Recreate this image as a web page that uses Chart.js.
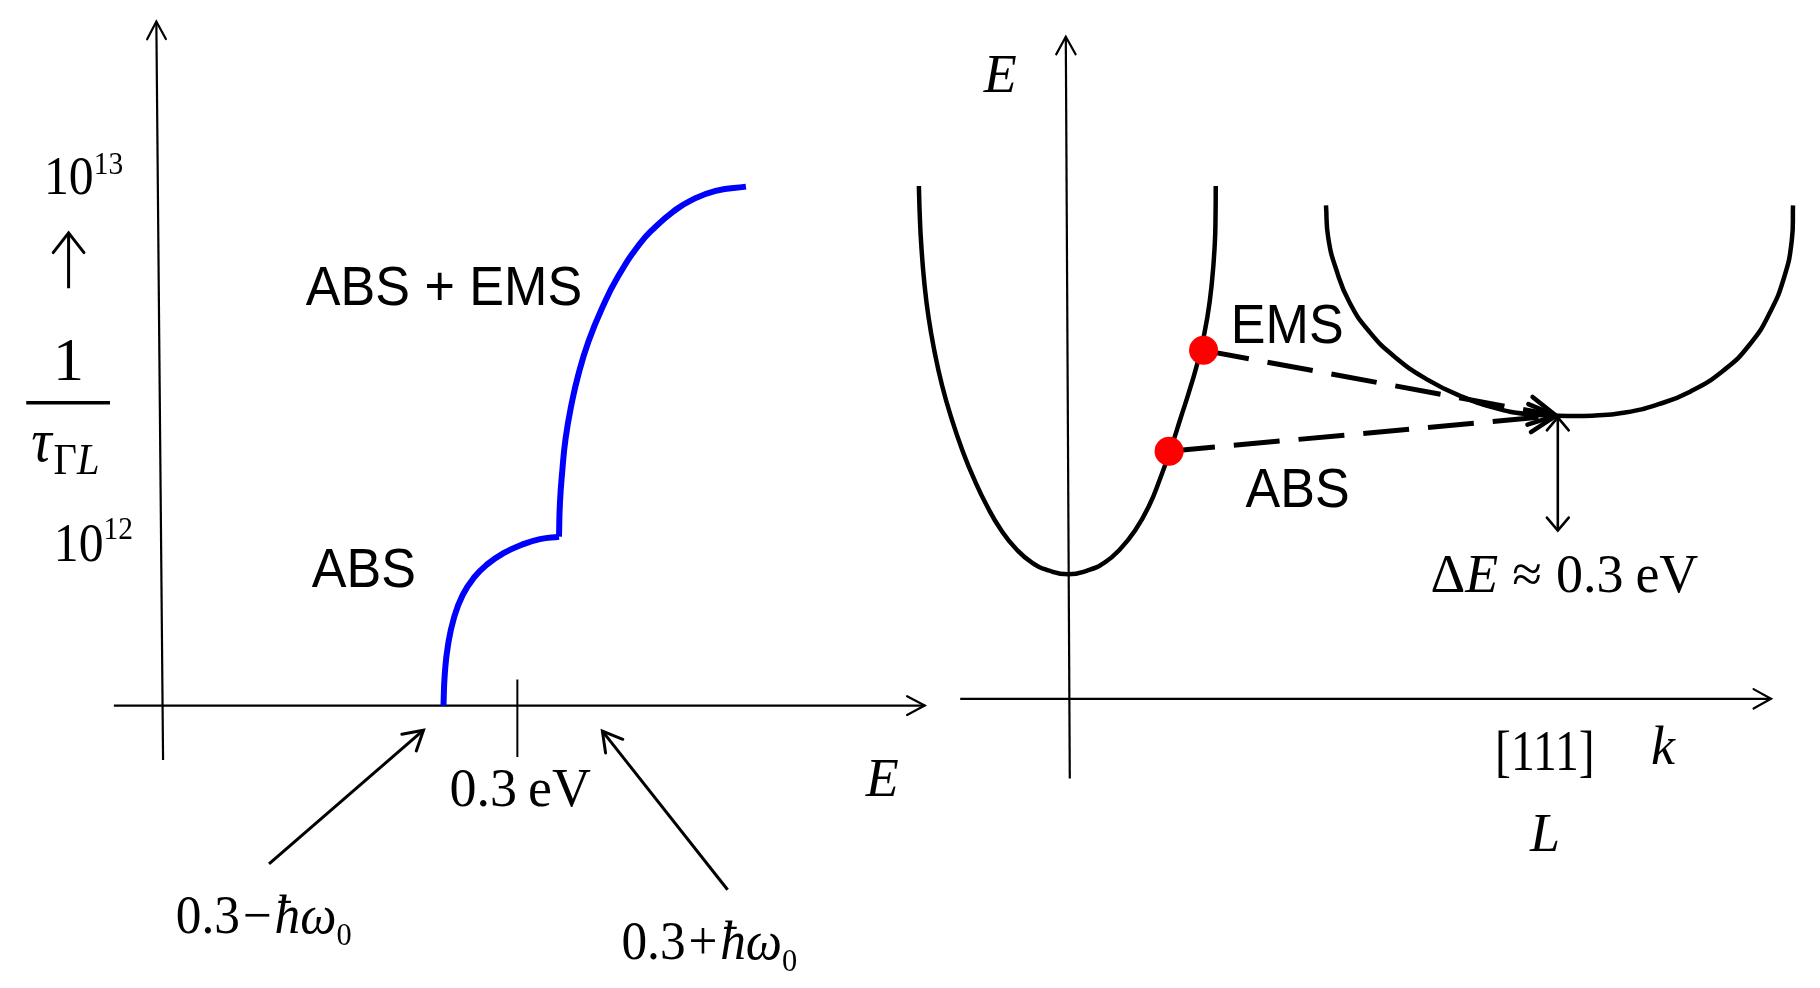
<!DOCTYPE html>
<html><head><meta charset="utf-8">
<script src="https://cdn.jsdelivr.net/npm/chart.js@4"></script>
<style>html,body{margin:0;padding:0;background:#fff;overflow:hidden}canvas{display:block}</style>
</head><body>
<canvas id="c" width="1820" height="988"></canvas>
<script>
// ===== Left panel: scattering rate 1/tau (log10 units) vs electron energy E (eV) =====
const blueLowE  = [0.2375,0.2386,0.2413,0.2463,0.2538,0.2634,0.2750,0.2883,0.3033,0.3191,0.3352];
const blueLowR  = [11.5167,11.6056,11.6889,11.7667,11.8333,11.8833,11.9222,11.9528,11.9764,11.9931,12.0];
const blueHighE = [0.3352,0.3360,0.3380,0.3408,0.3455,0.3518,0.3602,0.3713,0.3851,0.4032,0.4157,0.4315,0.4465,0.4677,0.4933];
const blueHighR = [12.0,12.0964,12.1889,12.2814,12.3742,12.4667,12.5592,12.6519,12.7444,12.8369,12.8833,12.9297,12.9619,12.9897,13.0019];
const tickE = 0.3;            // "0.3 eV" tick
const axisRateMin = 11.5167;  // level of E axis

// ===== Right panel: band structure E(k), k in units of the L point =====
const gammaK = [-0.3058,-0.3040,-0.3010,-0.2946,-0.2861,-0.2740,-0.2586,-0.2388,-0.2161,-0.1946,-0.1662,-0.1370,-0.1068,-0.0746,-0.0408,-0.0006,
                0.0396,0.0738,0.1060,0.1362,0.1644,0.1885,0.2076,0.2288,0.2509,0.2700,0.2841,0.2932,0.2992,0.3008,0.3012];
const gammaE = [1.3208,1.2458,1.1708,1.0708,0.9833,0.8958,0.8083,0.7208,0.6375,0.5708,0.4958,0.4333,0.3858,0.3508,0.3308,0.3208,
                0.3308,0.3508,0.3858,0.4333,0.4958,0.5708,0.6375,0.7208,0.8083,0.8958,0.9833,1.0708,1.1708,1.2458,1.3208];
const lValleyK = [0.5266,0.5312,0.5479,0.5748,0.6151,0.6686,0.7358,0.8028,0.8698,0.9370,1.0006,
                  1.0710,1.1382,1.2052,1.2722,1.3394,1.3930,1.4346,1.4638,1.4789,1.4815];
const lValleyE = [1.2708,1.1875,1.1043,1.0208,0.9458,0.8793,0.8208,0.7793,0.75,0.7333,0.7293,
                  0.7293,0.7375,0.7583,0.7918,0.8458,0.9125,0.9958,1.0875,1.1793,1.2708];
const emsPoint = [0.2763, 0.8975];
const absPoint = [0.2058, 0.6375];
const lMinTip  = [0.997, 0.7293];
const deltaE   = [1.0006, 0.725, 0.4333]; // k, top E, bottom E

// ===== helpers =====
const P = (xs, ys) => xs.map((x, i) => ({x, y: ys[i]}));
const seg = (x1, y1, x2, y2) => [{x: x1, y: y1}, {x: x2, y: y2}];
const SERIF = '"Liberation Serif","Times New Roman",serif';
const SANS = '"Liberation Sans",Arial,sans-serif';
const f = (s, it) => (it ? 'italic ' : '') + s + 'px ' + SERIF;

function lineDS(data, xa, ya, opt) {
  return Object.assign({type: 'line', data, xAxisID: xa, yAxisID: ya, borderColor: '#000', borderWidth: 2.2,
    pointRadius: 0, tension: 0, fill: false, borderCapStyle: 'butt', order: 3}, opt || {});
}
const smooth = {tension: 0.5, order: 2, borderJoinStyle: 'round'};

const datasets = [
  // left axes
  lineDS(seg(-0.0412, axisRateMin, 0.6445, axisRateMin), 'xL', 'yL', {arrow: {end: true, len: 20, ang: 28, w: 2.2}}),
  lineDS(seg(0.0004, 11.3611, -0.0053, 13.4744), 'xL', 'yL', {arrow: {end: true, len: 20, ang: 28, w: 2.2}}),
  lineDS(seg(tickE, 11.5917, tickE, 11.3694), 'xL', 'yL', {borderWidth: 2}),
  // fraction bar and small up arrow of y-label
  lineDS(seg(-0.1153, 12.3833, -0.0445, 12.3833), 'xL', 'yL', {borderWidth: 3.5}),
  lineDS(seg(-0.0795, 12.7111, -0.0795, 12.8694), 'xL', 'yL', {borderWidth: 3, arrow: {end: true, len: 25, ang: 38, w: 3}}),
  // pointer arrows
  lineDS(seg(0.0900, 11.0639, 0.2206, 11.4464), 'xL', 'yL', {borderWidth: 3, arrow: {end: true, len: 22, ang: 30, w: 3}}),
  lineDS(seg(0.4778, 10.9897, 0.3719, 11.4436), 'xL', 'yL', {borderWidth: 3, arrow: {end: true, len: 22, ang: 30, w: 3}}),
  // blue scattering-rate curve
  lineDS(P(blueLowE, blueLowR), 'xL', 'yL', Object.assign({borderColor: '#0000ff', borderWidth: 6}, smooth)),
  lineDS(P(blueHighE, blueHighR), 'xL', 'yL', Object.assign({borderColor: '#0000ff', borderWidth: 6}, smooth)),

  // right axes
  lineDS(seg(-0.2213, 0, 1.4366, 0), 'xR', 'yR', {arrow: {end: true, len: 20, ang: 29, w: 2.2}}),
  lineDS(seg(0.0028, -0.205, -0.0054, 1.705), 'xR', 'yR', {arrow: {end: true, len: 20, ang: 29, w: 2.2}}),
  // valleys
  lineDS(P(gammaK, gammaE), 'xR', 'yR', Object.assign({borderWidth: 4.5}, smooth)),
  lineDS(P(lValleyK, lValleyE), 'xR', 'yR', Object.assign({borderWidth: 4.5}, smooth)),
  // dashed transitions
  lineDS(seg(emsPoint[0], emsPoint[1], lMinTip[0], lMinTip[1]), 'xR', 'yR', {borderWidth: 5, borderDash: [46, 19], order: 1, arrow: {end: true, len: 30, ang: 28, w: 4.5}}),
  lineDS(seg(absPoint[0], absPoint[1], lMinTip[0], lMinTip[1]), 'xR', 'yR', {borderWidth: 5, borderDash: [46, 19], order: 1, arrow: {end: true, len: 30, ang: 28, w: 4.5}}),
  // delta E double arrow
  lineDS(seg(deltaE[0], deltaE[1], deltaE[0], deltaE[2]), 'xR', 'yR', {borderWidth: 2.6, order: 1, arrow: {start: true, end: true, len: 17, ang: 40, w: 2.6}}),
  // red states
  {type: 'line', showLine: false, data: [{x: emsPoint[0], y: emsPoint[1]}, {x: absPoint[0], y: absPoint[1]}],
   xAxisID: 'xR', yAxisID: 'yR', pointRadius: 14.5, pointBackgroundColor: '#ff0000', pointBorderWidth: 0, pointBorderColor: '#ff0000', order: 0}
];

// text annotations (anchor in data coordinates of the given axes; left/baseline)
const annotations = [
  {xa: 'xL', ya: 'yL', x: -0.1003, y: 12.9806, runs: [{t: '10', f: f(54)}, {t: '13', f: f(32), dy: -20}], sx: 0.92},
  {xa: 'xL', ya: 'yL', x: -0.0920, y: 11.9306, runs: [{t: '10', f: f(54)}, {t: '12', f: f(32), dy: -22}], sx: 0.92},
  {xa: 'xL', ya: 'yL', x: -0.0795, y: 12.4472, runs: [{t: '1', f: f(62)}], align: 'center'},
  {xa: 'xL', ya: 'yL', x: -0.1111, y: 12.2167, runs: [{t: 'τ', f: f(62, true)}, {t: 'Γ', f: f(44), dy: 13, dx: 2}, {t: 'L', f: f(44, true), dy: 13}], sx: 0.92},
  {xa: 'xL', ya: 'yL', x: 0.1211, y: 12.6639, runs: [{t: 'ABS + EMS', f: '56px ' + SANS}], sx: 0.93},
  {xa: 'xL', ya: 'yL', x: 0.1261, y: 11.8556, runs: [{t: 'ABS', f: '56px ' + SANS}], sx: 0.93},
  {xa: 'xL', ya: 'yL', x: 0.2426, y: 11.2306, runs: [{t: '0.3', f: f(54)}, {t: 'eV', f: f(54), dx: 11}]},
  {xa: 'xL', ya: 'yL', x: 0.5945, y: 11.2583, runs: [{t: 'E', f: f(54, true)}]},
  {xa: 'xL', ya: 'yL', x: 0.0112, y: 10.8647, runs: [{t: '0.3', f: f(54)}, {t: '−', f: f(54), dx: 3}, {t: 'ħω', f: f(54, true), dx: 3}, {t: '0', f: f(32), dy: 12}], sx: 0.95},
  {xa: 'xL', ya: 'yL', x: 0.3880, y: 10.7908, runs: [{t: '0.3', f: f(54)}, {t: '+', f: f(54), dx: 3}, {t: 'ħω', f: f(54, true), dx: 3}, {t: '0', f: f(32), dy: 12}], sx: 0.95},

  {xa: 'xR', ya: 'yR', x: -0.1730, y: 1.5625, runs: [{t: 'E', f: f(54, true)}]},
  {xa: 'xR', ya: 'yR', x: 0.3320, y: 0.9175, runs: [{t: 'EMS', f: '56px ' + SANS}], sx: 0.93},
  {xa: 'xR', ya: 'yR', x: 0.3622, y: 0.495, runs: [{t: 'ABS', f: '56px ' + SANS}], sx: 0.93},
  {xa: 'xR', ya: 'yR', x: 0.7404, y: 0.275, runs: [{t: 'Δ', f: f(54)}, {t: 'E', f: f(54, true)}, {t: '≈', f: f(54), dx: 14}, {t: '0.3', f: f(54), dx: 14}, {t: 'eV', f: f(54), dx: 12}]},
  {xa: 'xR', ya: 'yR', x: 0.8724, y: -0.1825, runs: [{t: '[111]', f: f(58)}], sx: 0.82},
  {xa: 'xR', ya: 'yR', x: 1.1911, y: -0.1675, runs: [{t: 'k', f: f(54, true)}]},
  {xa: 'xR', ya: 'yR', x: 0.9437, y: -0.3925, runs: [{t: 'L', f: f(54, true)}]}
];

function drawRich(ctx, x, y, a) {
  ctx.save();
  ctx.translate(x, y);
  ctx.scale(a.sx || 1, 1);
  let total = 0;
  a.runs.forEach(r => { ctx.font = r.f; total += (r.dx || 0) + ctx.measureText(r.t).width; });
  let cx = a.align === 'center' ? -total / 2 : 0;
  ctx.fillStyle = '#000';
  ctx.textBaseline = 'alphabetic';
  a.runs.forEach(r => {
    ctx.font = r.f;
    cx += (r.dx || 0);
    ctx.fillText(r.t, cx, r.dy || 0);
    cx += ctx.measureText(r.t).width;
  });
  ctx.restore();
}

const overlay = {
  id: 'overlay',
  afterDatasetsDraw(chart) {
    const ctx = chart.ctx;
    chart.data.datasets.forEach(d => {
      if (!d.arrow) return;
      const xs = chart.scales[d.xAxisID], ys = chart.scales[d.yAxisID];
      const pts = d.data.map(p => [xs.getPixelForValue(p.x), ys.getPixelForValue(p.y)]);
      const head = (tip, from) => {
        const a = Math.atan2(tip[1] - from[1], tip[0] - from[0]);
        const h = d.arrow.ang * Math.PI / 180, L = d.arrow.len;
        ctx.save();
        ctx.strokeStyle = '#000';
        ctx.lineWidth = d.arrow.w;
        ctx.lineCap = 'round';
        ctx.lineJoin = 'miter';
        ctx.setLineDash([]);
        ctx.beginPath();
        ctx.moveTo(tip[0] - L * Math.cos(a - h), tip[1] - L * Math.sin(a - h));
        ctx.lineTo(tip[0], tip[1]);
        ctx.lineTo(tip[0] - L * Math.cos(a + h), tip[1] - L * Math.sin(a + h));
        ctx.stroke();
        ctx.restore();
      };
      if (d.arrow.end) head(pts[pts.length - 1], pts[pts.length - 2]);
      if (d.arrow.start) head(pts[0], pts[1]);
    });
    annotations.forEach(a => {
      drawRich(ctx, chart.scales[a.xa].getPixelForValue(a.x), chart.scales[a.ya].getPixelForValue(a.y), a);
    });
  }
};

new Chart(document.getElementById('c'), {
  type: 'line',
  data: {datasets},
  options: {
    responsive: false, animation: false, devicePixelRatio: 1, events: [],
    layout: {padding: 0},
    plugins: {legend: {display: false}, tooltip: {enabled: false}, title: {display: false}},
    scales: {
      xL: {type: 'linear', axis: 'x', display: false, min: -0.12524, max: 1.38929},
      yL: {type: 'linear', axis: 'y', display: false, min: 10.75, max: 13.49444},
      xR: {type: 'linear', axis: 'x', display: false, min: -2.15493, max: 1.50704},
      yR: {type: 'linear', axis: 'y', display: false, min: -0.7075, max: 1.7625}
    }
  },
  plugins: [overlay]
});
</script>
</body></html>
